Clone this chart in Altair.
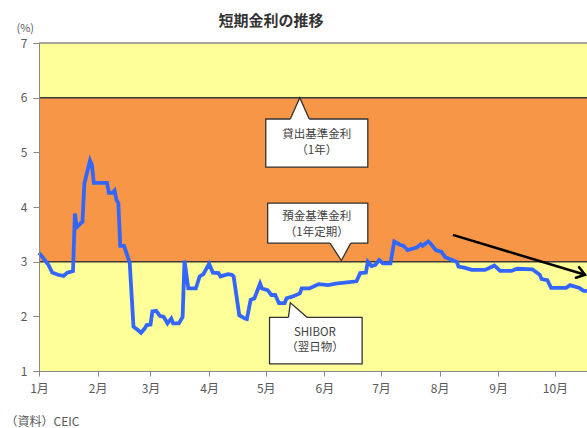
import altair as alt
import pandas as pd

FONT = "Noto Sans CJK JP"

# ---- SHIBOR overnight (%) ----
dates = [
    "2014-01-01", "2014-01-02", "2014-01-04", "2014-01-06", "2014-01-08", "2014-01-11",
    "2014-01-14", "2014-01-16", "2014-01-19", "2014-01-20", "2014-01-21", "2014-01-23",
    "2014-01-24", "2014-01-25", "2014-01-28", "2014-01-29", "2014-01-30", "2014-02-06",
    "2014-02-07", "2014-02-09", "2014-02-10", "2014-02-11", "2014-02-12", "2014-02-13",
    "2014-02-15", "2014-02-18", "2014-02-20", "2014-02-22", "2014-02-24", "2014-02-26",
    "2014-02-27", "2014-03-01", "2014-03-02", "2014-03-04", "2014-03-06", "2014-03-08",
    "2014-03-10", "2014-03-12", "2014-03-13", "2014-03-16", "2014-03-18", "2014-03-19",
    "2014-03-21", "2014-03-25", "2014-03-27", "2014-03-29", "2014-04-01", "2014-04-03",
    "2014-04-06", "2014-04-07", "2014-04-11", "2014-04-13", "2014-04-14", "2014-04-17",
    "2014-04-20", "2014-04-21", "2014-04-23", "2014-04-25", "2014-04-28", "2014-04-29",
    "2014-05-02", "2014-05-04", "2014-05-06", "2014-05-08", "2014-05-11", "2014-05-12",
    "2014-05-15", "2014-05-19", "2014-05-20", "2014-05-24", "2014-05-26", "2014-05-29",
    "2014-06-03", "2014-06-07", "2014-06-13", "2014-06-18", "2014-06-20", "2014-06-23",
    "2014-06-24", "2014-06-26", "2014-06-28", "2014-06-30", "2014-07-02", "2014-07-06",
    "2014-07-08", "2014-07-11", "2014-07-13", "2014-07-15", "2014-07-18", "2014-07-20",
    "2014-07-22", "2014-07-23", "2014-07-26", "2014-07-27", "2014-07-30", "2014-08-02",
    "2014-08-04", "2014-08-07", "2014-08-10", "2014-08-11", "2014-08-14", "2014-08-18",
    "2014-08-25", "2014-08-30", "2014-09-02", "2014-09-08", "2014-09-11", "2014-09-19",
    "2014-09-23", "2014-09-24", "2014-09-27", "2014-09-29", "2014-10-07", "2014-10-09",
    "2014-10-14", "2014-10-16", "2014-10-18",
]
shibor = [
    3.16, 3.12, 3.03, 2.94, 2.80, 2.76,
    2.74, 2.80, 2.83, 3.88, 3.63, 3.70,
    3.73, 4.43, 4.85, 4.77, 4.44, 4.44,
    4.26, 4.26, 4.30, 4.13, 4.07, 3.29,
    3.29, 2.98, 1.81, 1.76, 1.70, 1.78,
    1.84, 1.85, 2.09, 2.10, 2.01, 1.99,
    1.87, 1.96, 1.87, 1.87, 1.99, 3.02,
    2.51, 2.51, 2.73, 2.77, 2.96, 2.80,
    2.79, 2.73, 2.77, 2.76, 2.73, 2.02,
    1.96, 1.95, 2.30, 2.33, 2.60, 2.51,
    2.48, 2.39, 2.39, 2.24, 2.24, 2.33,
    2.36, 2.42, 2.51, 2.51, 2.54, 2.59,
    2.57, 2.60, 2.62, 2.64, 2.79, 2.80,
    3.00, 2.92, 2.94, 3.03, 2.97, 2.97,
    3.37, 3.31, 3.29, 3.21, 3.24, 3.26,
    3.32, 3.29, 3.37, 3.34, 3.21, 3.18,
    3.08, 3.04, 3.00, 2.91, 2.89, 2.85,
    2.85, 2.93, 2.83, 2.83, 2.87, 2.86,
    2.76, 2.68, 2.66, 2.52, 2.52, 2.57,
    2.52, 2.47, 2.46,
]

# ---- benchmark rates (%) ----
lending_rate = 6.0   # 貸出基準金利（1年）
deposit_rate = 3.0   # 預金基準金利（1年定期）
y_min, y_max = 1, 7

range_start = "2014-01-01"
range_end = "2014-10-18"
month_numbers = list(range(1, 11))
y_ticks = [1, 2, 3, 4, 5, 6, 7]

# ---- annotations (data coordinates) ----
box_ids = ["lend", "dep", "shibor"]
box_x1 = ["2014-05-01", "2014-05-02", "2014-05-03"]
box_x2 = ["2014-06-24", "2014-06-24", "2014-06-21"]
box_y1 = [4.73, 3.34, 1.13]
box_y2 = [5.61, 4.07, 1.98]

ptr_ids = ["lend"] * 3 + ["dep"] * 3 + ["shibor"] * 3
ptr_x = ["2014-05-14", "2014-05-19", "2014-05-24",
         "2014-06-04", "2014-06-10", "2014-06-15",
         "2014-05-13", "2014-05-14", "2014-05-23"]
ptr_y = [5.61, 6.0, 5.61,
         3.34, 3.02, 3.34,
         1.98, 2.25, 1.98]
ptr_base = [5.57, 5.57, 5.57,
            3.38, 3.38, 3.38,
            1.94, 1.94, 1.94]

label_x = ["2014-05-28", "2014-05-28", "2014-05-28", "2014-05-28", "2014-05-27", "2014-05-27"]
label_y = [5.32, 5.03, 3.82, 3.53, 1.69, 1.42]
label_text = ["貸出基準金利", "（1年）", "預金基準金利", "（1年定期）", "SHIBOR", "（翌日物）"]

arrow_x = ["2014-08-08", "2014-10-17"]
arrow_y = [3.49, 2.76]

# ---- tables ----
line_df = pd.DataFrame({"date": dates, "rate": shibor})
band_df = pd.DataFrame({
    "lo": [y_min, deposit_rate, lending_rate],
    "hi": [deposit_rate, lending_rate, y_max],
    "zone": ["low", "mid", "high"],
    "s": [range_start] * 3,
    "e": [range_end] * 3,
})
rule_df = pd.DataFrame({"v": [deposit_rate, lending_rate]})
top_df = pd.DataFrame({"v": [y_max]})
box_df = pd.DataFrame({"id": box_ids, "x1": box_x1, "x2": box_x2, "y1": box_y1, "y2": box_y2})
ptr_df = pd.DataFrame({"id": ptr_ids, "x": ptr_x, "y": ptr_y, "b": ptr_base})
lab_df = pd.DataFrame({"x": label_x, "y": label_y, "t": label_text})
arr_df = pd.DataFrame({"x": arrow_x, "y": arrow_y})
head_df = arr_df.iloc[[1]]

x_scale = alt.Scale(
    type="utc",
    domain=[alt.DateTime(year=2014, month=1, date=1, utc=True),
            alt.DateTime(year=2014, month=10, date=18, utc=True)],
)
y_scale = alt.Scale(domain=[y_min, y_max], nice=False, zero=False)

x_axis = alt.Axis(
    values=[alt.DateTime(year=2014, month=m, date=1, utc=True) for m in month_numbers],
    labelExpr="(utcmonth(datum.value) + 1) + '月'",
    title="（資料）CEIC",
    titleX=-34, titleY=50, titleAlign="left", titleBaseline="middle",
    titleFont=FONT, titleFontSize=12, titleFontWeight="normal", titleColor="#595959",
    labelFont=FONT, labelFontSize=12, labelColor="#595959", labelPadding=7,
    tickSize=5, tickColor="#888888", domainColor="#888888", grid=False,
    labelFlush=False, labelOverlap=False, zindex=1,
)
y_axis = alt.Axis(
    values=y_ticks, format="d",
    title="(%)", titleAngle=0, titleX=-23, titleY=-15, titleAlign="left",
    titleBaseline="middle", titleFont=FONT, titleFontSize=11,
    titleFontWeight="normal", titleColor="#595959",
    labelFont=FONT, labelFontSize=12, labelColor="#595959", labelPadding=6,
    tickSize=6, tickColor="#888888", domainColor="#888888", grid=False, zindex=1,
)


def X(field):
    return alt.X(field, scale=x_scale, axis=x_axis)


def Y(field):
    return alt.Y(field, scale=y_scale, axis=y_axis)


bands = alt.Chart(band_df).mark_rect().encode(
    x=X("s:T"),
    x2="e:T",
    y=Y("lo:Q"),
    y2="hi:Q",
    color=alt.Color("zone:N", scale=alt.Scale(domain=["low", "mid", "high"],
                                              range=["#FFFF99", "#F79646", "#FFFF99"]),
                    legend=None),
)

top_edge = alt.Chart(top_df).mark_rule(color="#888888", strokeWidth=1.5).encode(
    y=Y("v:Q"),
)

rules = alt.Chart(rule_df).mark_rule(color="#3a3a3a", strokeWidth=1.5).encode(
    y=Y("v:Q"),
)

line = alt.Chart(line_df).mark_line(color="#3366FF", strokeWidth=3.8).encode(
    x=X("date:T"),
    y=Y("rate:Q"),
)

arrow = alt.Chart(arr_df).mark_line(color="black", strokeWidth=2.5).encode(
    x=X("x:T"),
    y=Y("y:Q"),
)
head = alt.Chart(head_df).mark_point(
    shape="M-1.45,-1L0,0L-1.45,1", filled=False, stroke="black",
    strokeWidth=2.5, size=121, angle=17, opacity=1, strokeCap="round",
).encode(
    x=X("x:T"),
    y=Y("y:Q"),
)

boxes = alt.Chart(box_df).mark_rect(fill="white", stroke="#333333", strokeWidth=1.3).encode(
    x=X("x1:T"),
    x2="x2:T",
    y=Y("y1:Q"),
    y2="y2:Q",
)
ptr_fill = alt.Chart(ptr_df).mark_area(color="white", opacity=1).encode(
    x=X("x:T"),
    y=Y("y:Q"),
    y2="b:Q",
    detail="id:N",
)
ptr_edge = alt.Chart(ptr_df).mark_line(color="#333333", strokeWidth=1.3).encode(
    x=X("x:T"),
    y=Y("y:Q"),
    detail="id:N",
)
labels = alt.Chart(lab_df).mark_text(
    font=FONT, fontSize=11.5, color="#404040", align="center", baseline="middle",
).encode(
    x=X("x:T"),
    y=Y("y:Q"),
    text="t:N",
)

chart = alt.layer(
    bands, top_edge, rules, line, arrow, head, boxes, ptr_fill, ptr_edge, labels
).properties(
    width=548, height=328,
    title=alt.Title("短期金利の推移", font=FONT, fontSize=15, fontWeight="bold",
                    color="#333333", anchor="middle", frame="group", dx=-42, dy=11,
                    offset=4),
    autosize=alt.AutoSizeParams(type="none"),
    padding={"left": 39, "top": 43, "right": 0, "bottom": 57},
).configure_view(
    stroke="#888888", strokeWidth=1,
)

chart.save("out.html", embed_options={"renderer": "svg", "actions": False})
